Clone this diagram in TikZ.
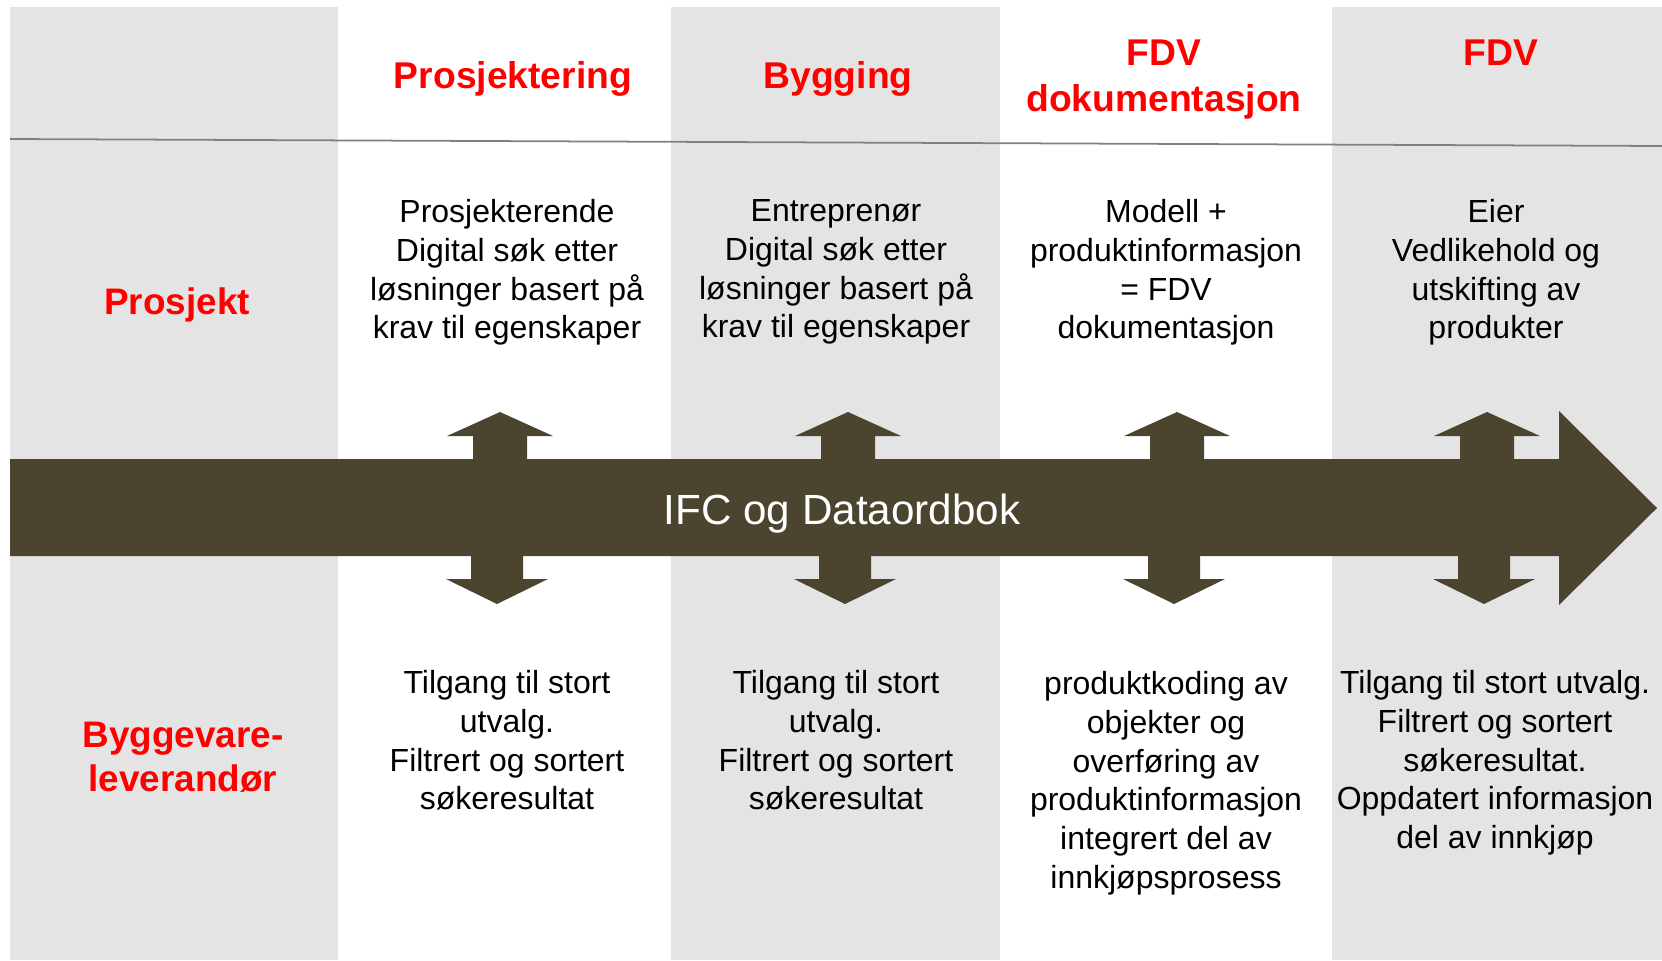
\documentclass[tikz,border=0pt]{standalone}
\usepackage{fontspec}
\setmainfont{Liberation Sans}
\definecolor{bandgray}{HTML}{E4E4E4}
\definecolor{ifcbrown}{HTML}{4B4530}
\definecolor{rulegray}{HTML}{808080}

\begin{document}
\begin{tikzpicture}[x=0.1mm, y=-0.1mm,
  phase/.style = {text=red, font=\fontsize{10.6}{13.1}\selectfont\bfseries, align=center, inner sep=0pt},
  role/.style = {text=red, font=\fontsize{10.5}{12.5}\selectfont\bfseries, align=center, inner sep=0pt},
  info/.style = {font=\fontsize{9.1}{11.0}\selectfont, align=center, inner sep=0pt, anchor=north}]
  \useasboundingbox (0,0) rectangle (1662,960);

  % grey bands
  \fill[bandgray] (10,7) rectangle (338,960);
  \fill[bandgray] (671,7) rectangle (1000,960);
  \fill[bandgray] (1332,7) rectangle (1662,960);
  \draw[rulegray, line width=0.5pt] (10,139) -- (1662,146);

  % big arrow and the up/down arrows
  \fill[ifcbrown] (10,459) -- (1559,459) -- (1559,411) -- (1657,508)
    -- (1559,605) -- (1559,556) -- (10,556) -- cycle;
  \foreach \ux/\dx in {500/497, 848/845, 1177/1174, 1487/1484} {
    \fill[ifcbrown] (\ux-27,460) -- (\ux-27,436) -- (\ux-53,436) -- (\ux,412)
      -- (\ux+53,436) -- (\ux+27,436) -- (\ux+27,460) -- cycle;
    \fill[ifcbrown] (\dx-26,555) -- (\dx-26,579) -- (\dx-51,579) -- (\dx,604)
      -- (\dx+51,579) -- (\dx+26,579) -- (\dx+26,555) -- cycle;
  }
  \node[anchor=base, text=white, font=\fontsize{12}{14}\selectfont, inner sep=0pt] (ifc) at (842,524) {IFC og Dataordbok};

  % headings
  \node[phase, anchor=base] (prosjektering) at (513,88) {Prosjektering};
  \node[phase, anchor=base] (bygging) at (838,88) {Bygging};
  \node[phase, anchor=north] (fdvdok) at (1164,39) {FDV\\dokumentasjon};
  \node[phase, anchor=base] (fdv) at (1501,65) {FDV};

  \node[role, anchor=base] (prosjekt) at (177,314) {Prosjekt};
  \node[role, anchor=north] (leverandor) at (183,721) {Byggevare-\\leverandør};

  % upper row
  \node[info] (p1) at (507,199) {Prosjekterende\\Digital søk etter\\løsninger basert på\\krav til egenskaper};
  \node[info] (p2) at (836,199) {Entreprenør\\Digital søk etter\\løsninger basert på\\krav til egenskaper};
  \node[info] (p3) at (1166,199) {Modell +\\produktinformasjon\\= FDV\\dokumentasjon};
  \node[info] (p4) at (1496,199) {Eier\\Vedlikehold og\\utskifting av\\produkter};

  % lower row
  \node[info] (b1) at (507,670) {Tilgang til stort\\utvalg.\\Filtrert og sortert\\søkeresultat};
  \node[info] (b2) at (836,670) {Tilgang til stort\\utvalg.\\Filtrert og sortert\\søkeresultat};
  \node[info] (b3) at (1166,671) {produktkoding av\\objekter og\\overføring av\\produktinformasjon\\integrert del av\\innkjøpsprosess};
  \node[info] (b4) at (1495,670) {Tilgang til stort utvalg.\\Filtrert og sortert\\søkeresultat.\\Oppdatert informasjon\\del av innkjøp};
\end{tikzpicture}
\end{document}
